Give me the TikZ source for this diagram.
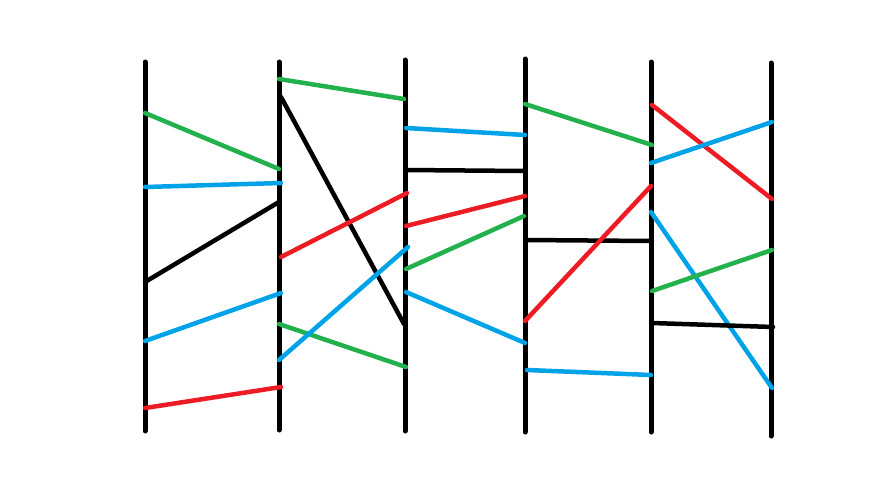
\documentclass[tikz,border=0pt]{standalone}
\definecolor{pgreen}{HTML}{22B14C}
\definecolor{pblue}{HTML}{00A2E8}
\definecolor{pred}{HTML}{ED1C24}
\begin{document}
\begin{tikzpicture}[x=1pt,y=-1pt,line width=4.5pt,line cap=round]
\useasboundingbox(0,0)rectangle(890,503);
% rails
\draw[line width=5pt](145,62)--(145,431);
\draw[line width=5pt](279,62)--(279,430);
\draw[line width=5pt](405,60)--(405,431);
\draw[line width=5pt](525,59)--(525,432);
\draw[line width=5pt](651,62)--(651,432);
\draw[line width=5pt](771,63)--(771,436);
% first gap
\draw[pgreen](145,113)--(279,169);
\draw[pblue](145,187)--(281,183);
\draw(145,282)--(279,202);
\draw[pblue](145,341)--(281,293);
\draw[pred](145,408)--(281,387);
% second gap
\draw[pgreen](279,79)--(404,99);
\draw(281,97)--(404,324);
\draw[pred](281,257)--(407,193);
\draw[pgreen](279,324)--(406,367);
\draw[pblue](279,360)--(408,247);
% third gap
\draw[pblue](406,128)--(525,135);
\draw(405,170)--(525,171);
\draw[pred](406,226)--(525,196);
\draw[pgreen](406,269)--(524,216);
\draw[pblue](406,292)--(525,343);
% fourth gap
\draw[pgreen](525,104)--(652,145);
\draw(525,240)--(651,241);
\draw[pred](525,321)--(651,186);
\draw[pblue](527,370)--(651,375);
% fifth gap
\draw[pred](652,105)--(772,199);
\draw[pblue](651,163)--(772,122);
\draw[pblue](651,212)--(772,388);
\draw[pgreen](652,291)--(772,250);
\draw(652,323)--(773,327);
\end{tikzpicture}
\end{document}
